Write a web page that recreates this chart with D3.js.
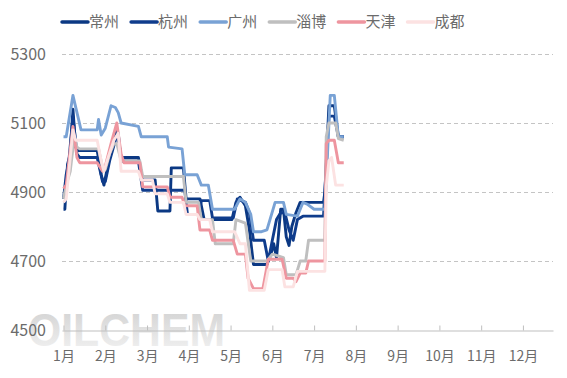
<!DOCTYPE html>
<meta charset="utf-8">
<style>
  body { margin: 0; background: #fff; }
  text { font-family: "Noto Sans CJK SC", "Microsoft YaHei", sans-serif; }
</style>
<svg width="567" height="378"></svg>
<script src="https://d3js.org/d3.v7.min.js"></script>
<script>

var seriesNames = ["常州", "杭州", "广州", "淄博", "天津", "成都"];
var seriesColors = ["#0b3883", "#0f3c8c", "#79a2d5", "#bfbfbf", "#ee959f", "#fce2e2"];
var monthLabels = ["1月", "2月", "3月", "4月", "5月", "6月", "7月", "8月", "9月", "10月", "11月", "12月"];
var yTicks = [4500, 4700, 4900, 5100, 5300];

var changzhou = [
  ["01-01", 4850], ["01-02", 4850], ["01-04", 4980], ["01-06", 5010], ["01-08", 5140], ["01-10", 5030],
  ["01-12", 5020], ["01-26", 5020], ["01-29", 4950], ["01-31", 4920], ["02-03", 4980], ["02-07", 5060],
  ["02-09", 5080], ["02-12", 5000], ["02-24", 5000], ["02-27", 4935], ["03-07", 4935], ["03-09", 4845],
  ["03-18", 4845], ["03-19", 4970], ["03-28", 4970], ["03-30", 4880], ["04-09", 4880], ["04-12", 4820],
  ["05-02", 4820], ["05-05", 4870], ["05-08", 4885], ["05-12", 4860], ["05-15", 4790], ["05-18", 4690],
  ["05-28", 4690], ["05-31", 4720], ["06-02", 4750], ["06-04", 4710], ["06-07", 4850], ["06-09", 4850],
  ["06-11", 4770], ["06-13", 4745], ["06-15", 4800], ["06-18", 4840], ["06-21", 4870], ["07-08", 4870],
  ["07-09", 4900], ["07-12", 5150], ["07-16", 5150], ["07-19", 5060], ["07-23", 5060]
];
var hangzhou = [
  ["01-01", 4880], ["01-03", 4950], ["01-05", 4990], ["01-08", 5120], ["01-11", 5010], ["01-13", 5000],
  ["01-26", 5000], ["01-30", 4930], ["02-01", 4930], ["02-04", 4990], ["02-08", 5050], ["02-10", 5070],
  ["02-12", 4990], ["02-24", 4990], ["02-27", 4905], ["03-29", 4905], ["03-31", 4835], ["04-08", 4835],
  ["04-10", 4875], ["04-16", 4875], ["04-18", 4825], ["05-03", 4825], ["05-06", 4880], ["05-12", 4870],
  ["05-15", 4840], ["05-18", 4760], ["05-26", 4760], ["05-29", 4700], ["06-01", 4760], ["06-04", 4820],
  ["06-07", 4840], ["06-10", 4840], ["06-13", 4790], ["06-16", 4760], ["06-19", 4820], ["06-23", 4830],
  ["07-08", 4830], ["07-09", 4900], ["07-12", 5120], ["07-16", 5120], ["07-19", 5060], ["07-23", 5060]
];
var guangzhou = [
  ["01-01", 5060], ["01-03", 5060], ["01-08", 5180], ["01-14", 5080], ["01-26", 5080], ["01-27", 5110],
  ["01-29", 5065], ["02-01", 5085], ["02-05", 5150], ["02-08", 5145], ["02-10", 5130], ["02-12", 5100],
  ["02-24", 5090], ["02-26", 5060], ["03-16", 5060], ["03-17", 5030], ["03-27", 5025], ["03-29", 4950],
  ["04-07", 4950], ["04-10", 4920], ["04-15", 4920], ["04-18", 4850], ["05-04", 4850], ["05-08", 4880],
  ["05-12", 4870], ["05-16", 4835], ["05-18", 4785], ["05-24", 4785], ["05-28", 4790], ["06-03", 4870],
  ["06-09", 4870], ["06-11", 4835], ["06-19", 4830], ["06-23", 4870], ["06-26", 4865], ["07-01", 4850],
  ["07-09", 4850], ["07-13", 5180], ["07-16", 5180], ["07-19", 5060], ["07-23", 5060]
];
var zibo = [
  ["01-01", 4880], ["01-03", 4920], ["01-06", 4960], ["01-09", 5060], ["01-11", 5030], ["01-13", 5025],
  ["01-27", 5025], ["01-30", 4970], ["02-01", 4965], ["02-04", 5010], ["02-07", 5040], ["02-09", 5040],
  ["02-12", 4990], ["02-25", 4990], ["02-27", 4945], ["03-28", 4945], ["03-30", 4870], ["04-08", 4870],
  ["04-10", 4820], ["04-18", 4820], ["04-20", 4750], ["05-03", 4750], ["05-05", 4820], ["05-12", 4810],
  ["05-16", 4700], ["05-28", 4700], ["06-01", 4720], ["06-09", 4710], ["06-11", 4660], ["06-18", 4660],
  ["06-21", 4700], ["06-25", 4700], ["06-27", 4760], ["07-09", 4760], ["07-10", 5060], ["07-12", 5100],
  ["07-17", 5100], ["07-19", 5055], ["07-23", 5050]
];
var tianjin = [
  ["01-01", 4910], ["01-03", 4920], ["01-05", 4990], ["01-08", 5090], ["01-11", 5000], ["01-13", 4985],
  ["01-26", 4985], ["01-30", 4960], ["02-01", 4975], ["02-05", 5040], ["02-09", 5100], ["02-12", 5010],
  ["02-14", 4985], ["02-25", 4985], ["02-27", 4915], ["03-16", 4915], ["03-18", 4885], ["03-27", 4885],
  ["03-29", 4860], ["04-07", 4860], ["04-09", 4790], ["04-16", 4790], ["04-18", 4760], ["05-03", 4760],
  ["05-06", 4720], ["05-12", 4720], ["05-14", 4650], ["05-18", 4620], ["05-25", 4620], ["05-29", 4705],
  ["06-08", 4705], ["06-11", 4650], ["06-16", 4650], ["06-18", 4640], ["06-21", 4665], ["06-25", 4665],
  ["06-27", 4700], ["07-09", 4700], ["07-10", 5040], ["07-12", 5050], ["07-16", 5050], ["07-19", 4985],
  ["07-23", 4985]
];
var chengdu = [
  ["01-01", 4870], ["01-03", 4880], ["01-05", 4960], ["01-08", 5080], ["01-10", 5050], ["01-26", 5050],
  ["01-29", 4990], ["01-31", 4960], ["02-03", 5000], ["02-07", 5050], ["02-10", 5070], ["02-12", 4960],
  ["02-24", 4960], ["02-26", 4935], ["03-05", 4935], ["03-07", 4895], ["03-16", 4895], ["03-18", 4870],
  ["03-28", 4870], ["03-30", 4835], ["04-07", 4835], ["04-09", 4820], ["04-16", 4820], ["04-18", 4785],
  ["05-04", 4785], ["05-08", 4750], ["05-12", 4750], ["05-15", 4615], ["05-26", 4615], ["05-29", 4675],
  ["06-08", 4675], ["06-10", 4625], ["06-16", 4625], ["06-19", 4670], ["07-09", 4670], ["07-10", 4915],
  ["07-12", 4990], ["07-14", 5000], ["07-17", 4920], ["07-23", 4920]
];

var allSeries = [changzhou, hangzhou, guangzhou, zibo, tianjin, chengdu];

// "MM-DD" -> fractional month index (months spaced evenly on the axis)
function monthPos(s) {
  var p = s.split("-"), mo = +p[0], d = +p[1];
  var days = new Date(2024, mo, 0).getDate();
  return mo - 1 + (d - 1) / days;
}

var svg = d3.select("svg");

var x = d3.scaleLinear().domain([-0.036, 11.72]).range([62, 553]),
    y = d3.scaleLinear().domain([4500, 5300]).range([330, 54]);

// watermark
var grad = svg.append("defs").append("linearGradient")
    .attr("id", "wm").attr("x1", 0).attr("y1", 0).attr("x2", 0).attr("y2", 1);
grad.append("stop").attr("offset", "0%").attr("stop-color", "#cfcfcf");
grad.append("stop").attr("offset", "100%").attr("stop-color", "#f4f4f4");
svg.append("text")
    .attr("x", 28).attr("y", 346)
    .attr("textLength", 197).attr("lengthAdjust", "spacingAndGlyphs")
    .style("font-family", "'Liberation Sans', Arial, sans-serif")
    .style("font-weight", "bold")
    .style("font-size", "47px")
    .attr("fill", "url(#wm)")
    .text("OILCHEM");

// grid
svg.append("g")
  .selectAll("line")
  .data(yTicks.filter(function(d) { return d > 4500; }))
  .enter().append("line")
    .attr("x1", 62).attr("x2", 553)
    .attr("y1", function(d) { return y(d) + 0.5; })
    .attr("y2", function(d) { return y(d) + 0.5; })
    .attr("stroke", "#c4c4c4")
    .attr("stroke-dasharray", "4,3");

// y labels
svg.append("g")
  .selectAll("text")
  .data(yTicks)
  .enter().append("text")
    .attr("x", 46)
    .attr("y", function(d) { return y(d); })
    .attr("dy", "0.35em")
    .attr("text-anchor", "end")
    .attr("fill", "#6b6b6b")
    .style("font-size", "16px")
    .text(function(d) { return d; });

// x axis
var xAxis = svg.append("g")
    .attr("transform", "translate(0,330.5)")
    .call(d3.axisBottom(x)
      .tickValues(d3.range(12))
      .tickSizeInner(-5)
      .tickSizeOuter(0)
      .tickPadding(21)
      .tickFormat(function(i) { return monthLabels[i]; }));
xAxis.select(".domain").attr("stroke", "#bfbfbf");
xAxis.selectAll(".tick line").attr("stroke", "#bfbfbf");
xAxis.selectAll(".tick text")
    .attr("fill", "#6b6b6b")
    .style("font-size", "14px")
    .style("font-family", "'Noto Sans CJK SC', sans-serif");

// lines
var line = d3.line()
    .x(function(d) { return x(monthPos(d[0])); })
    .y(function(d) { return y(d[1]); });

svg.append("g")
  .selectAll("path")
  .data(allSeries)
  .enter().append("path")
    .attr("d", line)
    .attr("fill", "none")
    .attr("stroke", function(d, i) { return seriesColors[i]; })
    .attr("stroke-width", 2.9)
    .attr("stroke-linejoin", "round");

// legend
var legend = svg.append("g")
  .selectAll("g")
  .data(seriesNames)
  .enter().append("g")
    .attr("transform", function(d, i) { return "translate(" + (62 + i * 69.1) + ",22)"; });

legend.append("line")
    .attr("x1", 0).attr("x2", 26)
    .attr("stroke", function(d, i) { return seriesColors[i]; })
    .attr("stroke-width", 3.5)
    .attr("stroke-linecap", "round");

legend.append("text")
    .attr("x", 27)
    .attr("dy", "0.35em")
    .attr("fill", "#6b6b6b")
    .style("font-size", "15px")
    .text(function(d) { return d; });

</script>
